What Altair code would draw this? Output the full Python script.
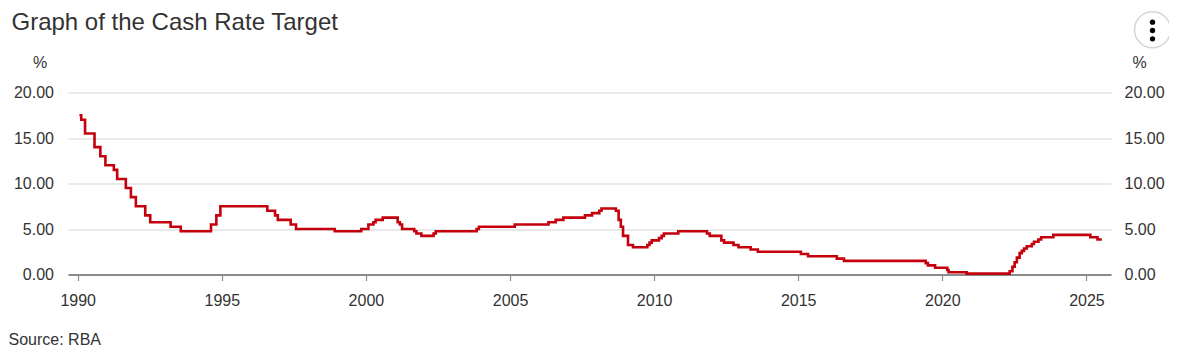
import altair as alt
import pandas as pd

# RBA cash rate target: dates of changes and new target (%)
change_dates = [
    "1990-01-23", "1990-02-15", "1990-04-04", "1990-08-02", "1990-10-15", "1990-12-18",
    "1991-04-04", "1991-05-16", "1991-09-03", "1991-11-06",
    "1992-01-08", "1992-05-06", "1992-07-08",
    "1993-03-23", "1993-07-30",
    "1994-08-17", "1994-10-24", "1994-12-14",
    "1996-07-31", "1996-11-06", "1996-12-11",
    "1997-05-23", "1997-07-30",
    "1998-12-02",
    "1999-11-03",
    "2000-02-02", "2000-04-05", "2000-05-03", "2000-08-02",
    "2001-02-07", "2001-03-07", "2001-04-04", "2001-09-05", "2001-10-03", "2001-12-05",
    "2002-05-08", "2002-06-05",
    "2003-11-05", "2003-12-03",
    "2005-03-02",
    "2006-05-03", "2006-08-02", "2006-11-08",
    "2007-08-08", "2007-11-07",
    "2008-02-06", "2008-03-05", "2008-09-03", "2008-10-08", "2008-11-05", "2008-12-03",
    "2009-02-04", "2009-04-08", "2009-10-07", "2009-11-04", "2009-12-02",
    "2010-03-03", "2010-04-07", "2010-05-05", "2010-11-03",
    "2011-11-02", "2011-12-07",
    "2012-05-02", "2012-06-06", "2012-10-03", "2012-12-05",
    "2013-05-08", "2013-08-07",
    "2015-02-04", "2015-05-06",
    "2016-05-04", "2016-08-03",
    "2019-06-05", "2019-07-03", "2019-10-02",
    "2020-03-04", "2020-03-20", "2020-11-04",
    "2022-05-04", "2022-06-08", "2022-07-06", "2022-08-03", "2022-09-07", "2022-10-05",
    "2022-11-02", "2022-12-07",
    "2023-02-08", "2023-03-08", "2023-05-03", "2023-06-07", "2023-11-08",
    "2025-02-19", "2025-05-21", "2025-07-15",
]
cash_rate = [
    17.5, 17.0, 15.5, 14.0, 13.0, 12.0,
    11.5, 10.5, 9.5, 8.5,
    7.5, 6.5, 5.75,
    5.25, 4.75,
    5.5, 6.5, 7.5,
    7.0, 6.5, 6.0,
    5.5, 5.0,
    4.75,
    5.0,
    5.5, 5.75, 6.0, 6.25,
    5.75, 5.5, 5.0, 4.75, 4.5, 4.25,
    4.5, 4.75,
    5.0, 5.25,
    5.5,
    5.75, 6.0, 6.25,
    6.5, 6.75,
    7.0, 7.25, 7.0, 6.0, 5.25, 4.25,
    3.25, 3.0, 3.25, 3.5, 3.75,
    4.0, 4.25, 4.5, 4.75,
    4.5, 4.25,
    3.75, 3.5, 3.25, 3.0,
    2.75, 2.5,
    2.25, 2.0,
    1.75, 1.5,
    1.25, 1.0, 0.75,
    0.5, 0.25, 0.1,
    0.35, 0.85, 1.35, 1.85, 2.35, 2.6,
    2.85, 3.1,
    3.35, 3.6, 3.85, 4.1, 4.35,
    4.1, 3.85, 3.85,
]
year_ticks = [1990, 1995, 2000, 2005, 2010, 2015, 2020, 2025]
rate_ticks = [0, 5, 10, 15, 20]

TITLE = "Graph of the Cash Rate Target"
SOURCE = "Source: RBA"
UNIT = "%"

RED = "#c4000c"
TEXT = "#333333"
FONT = "Liberation Sans"
W, H = 1043, 182

df = pd.DataFrame({"date": change_dates, "rate": cash_rate})
one = pd.DataFrame({"a": [0]})

xscale = alt.Scale(
    type="utc",
    domain=[alt.DateTime(year=1989, month=8, date=31, utc=True),
            alt.DateTime(year=2025, month=11, date=8, utc=True)],
)
yscale = alt.Scale(domain=[0, 20], nice=False, zero=True)

xaxis = alt.Axis(
    values=[alt.DateTime(year=y, month=1, date=1, utc=True) for y in year_ticks],
    format="%Y", title=None, grid=False, orient="bottom",
    domainColor="#8c8c8c", domainWidth=2,
    tickColor="#8c8c8c", tickSize=6, tickWidth=1.2,
    labelFontSize=16, labelColor=TEXT, labelPadding=12, labelFont=FONT,
)
left_axis = alt.Axis(
    values=rate_ticks, format=".2f", title=None, orient="left",
    domain=False, ticks=False, grid=True, gridColor="#e2e2e2", gridWidth=1.5,
    labelFontSize=16, labelColor=TEXT, labelPadding=14.5, labelFont=FONT,
)
right_axis = alt.Axis(
    values=rate_ticks, format=".2f", title=None, orient="right",
    domain=False, ticks=False, grid=False,
    labelFontSize=16, labelColor=TEXT, labelPadding=13, labelFont=FONT,
)

X = alt.X("date:T", scale=xscale, axis=xaxis)

line = alt.Chart(df).mark_line(
    interpolate="step-after", color=RED, strokeWidth=2.6
).encode(
    x=X,
    y=alt.Y("rate:Q", scale=yscale, axis=left_axis),
)
right = alt.Chart(df).mark_line(opacity=0).encode(
    x=X,
    y=alt.Y("rate:Q", scale=yscale, axis=right_axis),
)


def label(txt, x, y, size, align="left"):
    return alt.Chart(pd.DataFrame({"t": [txt]})).mark_text(
        align=align, baseline="alphabetic", fontSize=size, color=TEXT, font=FONT
    ).encode(text="t:N", x=alt.value(x), y=alt.value(y))


title = label(TITLE, -56.5, -62.2, 24)
unit_l = label(UNIT, -28, -24.5, 16, "center")
unit_r = label(UNIT, W + 28.5, -24.5, 16, "center")
source = label(SOURCE, -59.5, 252.5, 16)

menu_ring = alt.Chart(one).mark_point(
    shape="circle", filled=False, size=1296, stroke="#d6d6d6", strokeWidth=1.5, opacity=1
).encode(x=alt.value(1084.5), y=alt.value(-62.8))
dots = [
    alt.Chart(one).mark_circle(size=28, color="#000000", opacity=1).encode(
        x=alt.value(1084.5), y=alt.value(dy)
    )
    for dy in (-70.3, -62.0, -53.7)
]

chart = alt.layer(
    line, right, title, unit_l, unit_r, source, menu_ring, *dots
).resolve_scale(y="independent").properties(
    width=W, height=H,
    padding={"left": 60, "top": 84.5, "right": 58, "bottom": 76},
    autosize=alt.AutoSizeParams(type="none"),
    background="white",
).configure_view(stroke=None)

chart.save("out.html", embed_options={"renderer": "svg", "actions": False})
